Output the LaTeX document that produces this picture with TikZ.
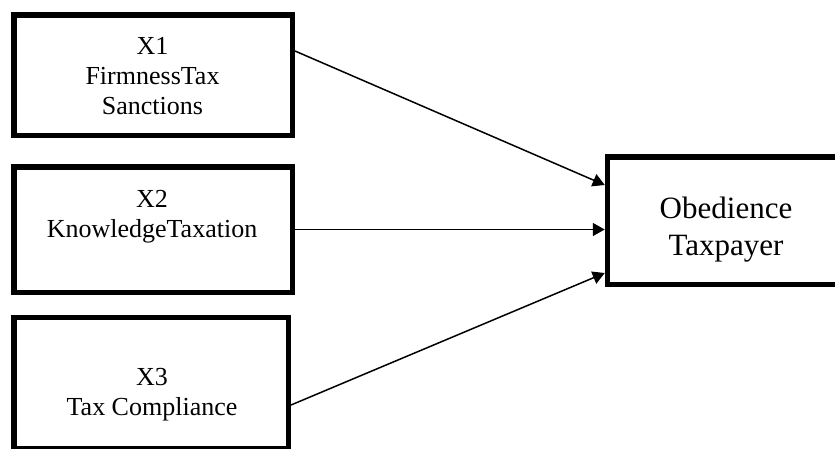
\documentclass[tikz,border=0pt]{standalone}
\usepackage{fontspec}
\setmainfont{Liberation Serif}
\usetikzlibrary{arrows.meta}

\begin{document}
\begin{tikzpicture}[x=1pt,y=-1pt,
  varbox/.style={draw,line width=5.5pt,rectangle,inner sep=0pt},
  vartext/.style={align=center,font=\fontsize{26}{30}\selectfont},
  link/.style={line width=1.5pt,-{Triangle[length=12pt,width=13pt]}}]
  \useasboundingbox (0,0) rectangle (835,448);
  % boxes
  \node[varbox,minimum width=278.5pt,minimum height=120.5pt] (x1) at (153,75) {};
  \node[varbox,minimum width=278.5pt,minimum height=125.5pt] (x2) at (153,229.5) {};
  \node[varbox,minimum width=274.5pt,minimum height=131pt] (x3) at (151,383) {};
  \node[varbox,minimum width=235pt,minimum height=127.5pt] (y) at (725,220.5) {};
  % texts
  \node[vartext] (t1) at (152.5,76) {X1\\FirmnessTax\\Sanctions};
  \node[vartext] (t2) at (152,217) {X2\\KnowledgeTaxation};
  \node[vartext] (t3) at (152,395) {X3\\Tax Compliance};
  \node[vartext,font=\fontsize{31}{37}\selectfont] (ty) at (726,230) {Obedience\\Taxpayer};
  % arrows
  \draw[link] ([yshift=24pt]x1.east) -- ([yshift=35.5pt]y.west);
  \draw[link] (x2.east) -- (x2.east -| y.west);
  \draw[link] ([yshift=-22pt]x3.east) -- ([yshift=-52.5pt]y.west);
\end{tikzpicture}
\end{document}
